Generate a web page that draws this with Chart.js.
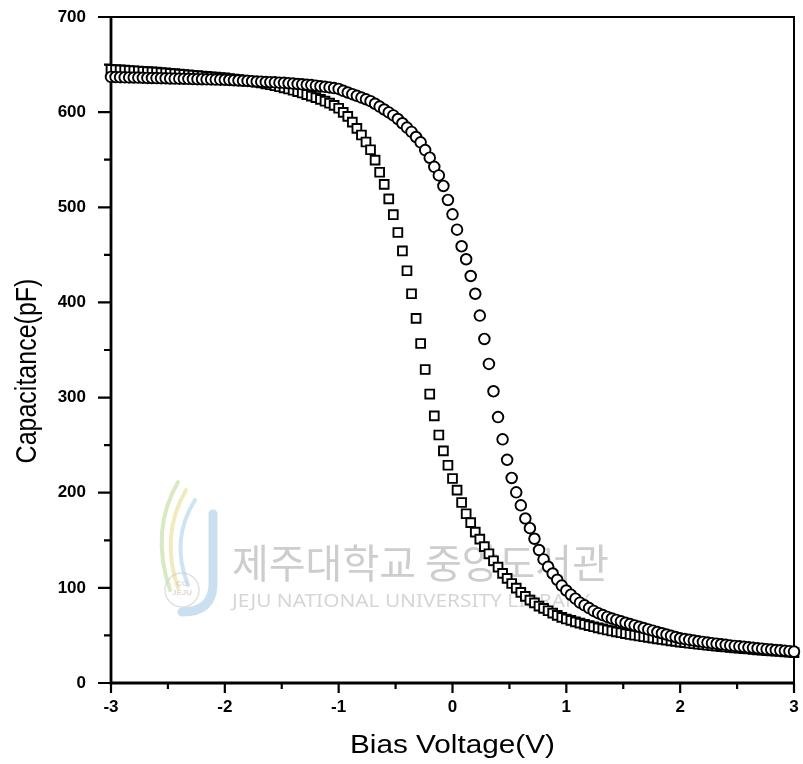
<!DOCTYPE html>
<html>
<head>
<meta charset="utf-8">
<script src="https://cdn.jsdelivr.net/npm/chart.js@4.4.1/dist/chart.umd.min.js"></script>
<style>
  html, body { margin: 0; padding: 0; background: #fff; }
  #wrap { width: 803px; height: 764px; }
</style>
</head>
<body>
<div id="wrap"><canvas id="cv" width="803" height="764"></canvas></div>
<script>
// C-V sweep, bias in volts
const biasV = [
  -3, -2.96, -2.92, -2.88, -2.84, -2.8, -2.76, -2.72, -2.68, -2.64,
  -2.6, -2.56, -2.52, -2.48, -2.44, -2.4, -2.36, -2.32, -2.28, -2.24,
  -2.2, -2.16, -2.12, -2.08, -2.04, -2, -1.96, -1.92, -1.88, -1.84,
  -1.8, -1.76, -1.72, -1.68, -1.64, -1.6, -1.56, -1.52, -1.48, -1.44,
  -1.4, -1.36, -1.32, -1.28, -1.24, -1.2, -1.16, -1.12, -1.08, -1.04,
  -1, -0.96, -0.92, -0.88, -0.84, -0.8, -0.76, -0.72, -0.68, -0.64,
  -0.6, -0.56, -0.52, -0.48, -0.44, -0.4, -0.36, -0.32, -0.28, -0.24,
  -0.2, -0.16, -0.12, -0.08, -0.04, 0, 0.04, 0.08, 0.12, 0.16,
  0.2, 0.24, 0.28, 0.32, 0.36, 0.4, 0.44, 0.48, 0.52, 0.56,
  0.6, 0.64, 0.68, 0.72, 0.76, 0.8, 0.84, 0.88, 0.92, 0.96,
  1, 1.04, 1.08, 1.12, 1.16, 1.2, 1.24, 1.28, 1.32, 1.36,
  1.4, 1.44, 1.48, 1.52, 1.56, 1.6, 1.64, 1.68, 1.72, 1.76,
  1.8, 1.84, 1.88, 1.92, 1.96, 2, 2.04, 2.08, 2.12, 2.16,
  2.2, 2.24, 2.28, 2.32, 2.36, 2.4, 2.44, 2.48, 2.52, 2.56,
  2.6, 2.64, 2.68, 2.72, 2.76, 2.8, 2.84, 2.88, 2.92, 2.96,
  3
];

// capacitance (pF), square markers
const capSquare = [
  645.0, 644.7, 644.4, 644.1, 643.8, 643.5, 643.2, 642.9, 642.6, 642.3,
  642.0, 641.6, 641.2, 640.8, 640.4, 640.0, 639.6, 639.2, 638.8, 638.4,
  638.0, 637.6, 637.2, 636.8, 636.4, 636.0, 635.4, 634.8, 634.2, 633.6,
  632.9, 632.2, 631.4, 630.6, 629.7, 628.8, 627.8, 626.7, 625.5, 624.3,
  623.0, 621.6, 620.1, 618.5, 616.9, 615.2, 613.4, 611.5, 609.4, 607.1,
  604.1, 599.7, 595.5, 589.5, 583.0, 576.0, 568.6, 560.5, 549.5, 536.8,
  524.1, 508.9, 492.2, 473.5, 454.1, 433.3, 409.1, 383.2, 356.8, 329.5,
  303.7, 280.8, 260.7, 244.0, 228.9, 214.9, 202.7, 189.7, 177.9, 168.5,
  158.6, 151.2, 143.3, 135.8, 128.5, 121.8, 115.2, 109.9, 104.6, 99.7,
  95.3, 91.1, 87.1, 84.2, 80.8, 78.5, 75.9, 73.4, 71.1, 69.0,
  67.3, 65.8, 64.3, 62.9, 61.6, 60.3, 59.1, 57.9, 56.8, 55.7,
  54.7, 53.7, 52.8, 51.9, 51.0, 50.2, 49.4, 48.6, 47.9, 47.1,
  46.4, 45.7, 45.0, 44.3, 43.7, 43.0, 42.4, 41.8, 41.3, 40.7,
  40.2, 39.7, 39.2, 38.7, 38.2, 37.8, 37.3, 36.9, 36.5, 36.1,
  35.7, 35.3, 34.9, 34.5, 34.1, 33.8, 33.4, 33.1, 32.7, 32.4,
  32.0
];

// capacitance (pF), circle markers
const capCircle = [
  637.0, 636.9, 636.8, 636.6, 636.5, 636.4, 636.3, 636.1, 636.0, 635.9,
  635.8, 635.7, 635.6, 635.4, 635.3, 635.2, 635.1, 635.0, 634.8, 634.7,
  634.6, 634.5, 634.4, 634.2, 634.1, 634.0, 633.8, 633.5, 633.3, 633.0,
  632.8, 632.5, 632.2, 632.0, 631.7, 631.5, 631.3, 631.0, 630.8, 630.4,
  630.0, 629.6, 629.2, 628.8, 628.4, 627.8, 627.2, 626.6, 626.0, 625.3,
  624.4, 622.4, 620.6, 618.9, 617.1, 615.3, 613.5, 611.5, 608.8, 605.8,
  602.8, 599.7, 596.6, 592.8, 588.3, 583.8, 579.2, 573.9, 568.3, 560.1,
  552.1, 542.5, 533.5, 522.4, 507.7, 492.6, 476.5, 459.0, 445.4, 427.8,
  409.1, 386.2, 361.6, 335.4, 306.6, 279.5, 256.1, 234.6, 215.5, 200.4,
  186.7, 172.9, 162.7, 151.6, 139.8, 129.9, 122.2, 115.1, 108.5, 102.4,
  97.2, 92.8, 88.6, 84.4, 81.6, 78.7, 75.8, 73.4, 71.4, 69.5,
  67.8, 66.3, 64.8, 63.3, 61.9, 60.5, 59.1, 57.7, 56.3, 55.0,
  53.6, 52.3, 51.0, 49.6, 48.3, 47.0, 46.2, 45.4, 44.6, 43.9,
  43.2, 42.5, 41.9, 41.3, 40.7, 40.1, 39.5, 39.0, 38.5, 38.0,
  37.5, 37.0, 36.5, 36.1, 35.6, 35.2, 34.7, 34.3, 33.9, 33.5,
  33.0
];

const xMajor = [-3, -2, -1, 0, 1, 2, 3];
const xMinor = [-2.5, -1.5, -0.5, 0.5, 1.5, 2.5];
const yMajor = [0, 100, 200, 300, 400, 500, 600, 700];
const yMinor = [50, 150, 250, 350, 450, 550, 650];

const xTitle = 'Bias Voltage(V)';
const yTitle = 'Capacitance(pF)';

// axes box, tick marks, titles and the library stamp behind the markers
const frame = {
  id: 'frame',
  beforeDatasetsDraw(chart) {
    const { ctx, chartArea: a, scales: { x, y } } = chart;
    ctx.save();

    // faint stamp
    ctx.globalAlpha = 0.55;
    ctx.lineCap = 'round';
    ctx.lineWidth = 9;
    ctx.strokeStyle = '#9fc7e6';
    ctx.beginPath(); ctx.moveTo(213, 514); ctx.lineTo(213, 585); ctx.quadraticCurveTo(212, 612, 182, 612); ctx.stroke();
    ctx.lineWidth = 4;
    ctx.strokeStyle = '#b9d98f';
    ctx.beginPath(); ctx.moveTo(178, 482); ctx.quadraticCurveTo(150, 530, 170, 590); ctx.stroke();
    ctx.strokeStyle = '#e5d98a';
    ctx.beginPath(); ctx.moveTo(186, 490); ctx.quadraticCurveTo(160, 535, 178, 588); ctx.stroke();
    ctx.strokeStyle = '#a8cde8';
    ctx.beginPath(); ctx.moveTo(195, 500); ctx.quadraticCurveTo(170, 540, 188, 585); ctx.stroke();
    ctx.lineWidth = 1.5;
    ctx.strokeStyle = '#c9c9c9';
    ctx.beginPath(); ctx.arc(182, 590, 17, 0, Math.PI * 2); ctx.stroke();
    ctx.fillStyle = '#bdbdbd';
    ctx.font = 'bold 8px "Liberation Sans"';
    ctx.textAlign = 'center';
    ctx.fillText('CO', 182, 586);
    ctx.fillText('JEJU', 182, 595);
    ctx.globalAlpha = 1;

    ctx.textAlign = 'left';
    ctx.fillStyle = '#cdcdcd';
    ctx.font = '40px "Noto Sans CJK KR"';
    ctx.fillText('제주대학교 중앙도서관', 232, 578);
    ctx.save();
    ctx.translate(232, 607);
    ctx.scale(1.19, 1);
    ctx.fillStyle = '#d6d6d6';
    ctx.font = '17.5px "Noto Sans"';
    ctx.fillText('JEJU NATIONAL UNIVERSITY LIBRARY', 0, 0);
    ctx.restore();

    // box
    ctx.strokeStyle = '#000';
    ctx.lineCap = 'butt';
    ctx.lineWidth = 2;
    ctx.beginPath();
    ctx.moveTo(a.left, a.top); ctx.lineTo(a.right, a.top); ctx.lineTo(a.right, a.bottom);
    ctx.stroke();
    ctx.lineWidth = 2.8;
    ctx.beginPath();
    ctx.moveTo(a.left, a.top); ctx.lineTo(a.left, a.bottom); ctx.lineTo(a.right + 1, a.bottom);
    ctx.stroke();

    // tick marks, pointing outward
    ctx.lineWidth = 2.2;
    ctx.beginPath();
    xMajor.forEach(v => { const px = x.getPixelForValue(v); ctx.moveTo(px, a.bottom); ctx.lineTo(px, a.bottom + 10); });
    xMinor.forEach(v => { const px = x.getPixelForValue(v); ctx.moveTo(px, a.bottom); ctx.lineTo(px, a.bottom + 6); });
    yMajor.forEach(v => { const py = y.getPixelForValue(v); ctx.moveTo(a.left, py); ctx.lineTo(a.left - 13, py); });
    yMinor.forEach(v => { const py = y.getPixelForValue(v); ctx.moveTo(a.left, py); ctx.lineTo(a.left - 7, py); });
    ctx.stroke();

    // axis titles
    ctx.fillStyle = '#000';
    ctx.font = '25px "Liberation Sans"';
    ctx.textAlign = 'center';
    ctx.textBaseline = 'alphabetic';
    ctx.save();
    ctx.translate((a.left + a.right) / 2, 753);
    ctx.scale(1.19, 1);
    ctx.fillText(xTitle, 0, 0);
    ctx.restore();
    ctx.save();
    ctx.translate(36, 371);
    ctx.rotate(-Math.PI / 2);
    ctx.scale(1, 1.19);
    ctx.fillText(yTitle, 0, 0);
    ctx.restore();

    ctx.restore();
  }
};

const tickFont = { family: 'Liberation Sans', size: 17, weight: 'bold' };

new Chart(document.getElementById('cv'), {
  type: 'scatter',
  data: {
    datasets: [
      {
        label: 'circle',
        data: biasV.map((v, i) => ({ x: v, y: capCircle[i] })),
        pointStyle: 'circle',
        pointRadius: 5.3,
        pointBorderWidth: 1.9,
        pointBorderColor: '#000',
        pointBackgroundColor: '#fff',
        showLine: false,
        clip: false
      },
      {
        label: 'square',
        data: biasV.map((v, i) => ({ x: v, y: capSquare[i] })),
        pointStyle: 'rect',
        pointRadius: 6.2,
        pointBorderWidth: 1.9,
        pointBorderColor: '#000',
        pointBackgroundColor: '#fff',
        showLine: false,
        clip: false
      }
    ]
  },
  options: {
    responsive: false,
    animation: false,
    events: [],
    layout: { autoPadding: false, padding: { top: 17, right: 9, left: 0, bottom: 0 } },
    plugins: { legend: { display: false }, tooltip: { enabled: false } },
    scales: {
      x: {
        type: 'linear',
        min: -3,
        max: 3,
        afterFit: s => { s.height = 81; s.paddingLeft = 0; s.paddingRight = 0; },
        grid: { display: false, drawTicks: false },
        border: { display: false },
        ticks: { stepSize: 1, color: '#000', font: tickFont, padding: 14, maxRotation: 0 }
      },
      y: {
        type: 'linear',
        min: 0,
        max: 700,
        afterFit: s => { s.width = 111; s.paddingTop = 0; s.paddingBottom = 0; },
        grid: { display: false, drawTicks: false },
        border: { display: false },
        ticks: { stepSize: 100, color: '#000', font: tickFont, padding: 25 }
      }
    }
  },
  plugins: [frame]
});
</script>
</body>
</html>
